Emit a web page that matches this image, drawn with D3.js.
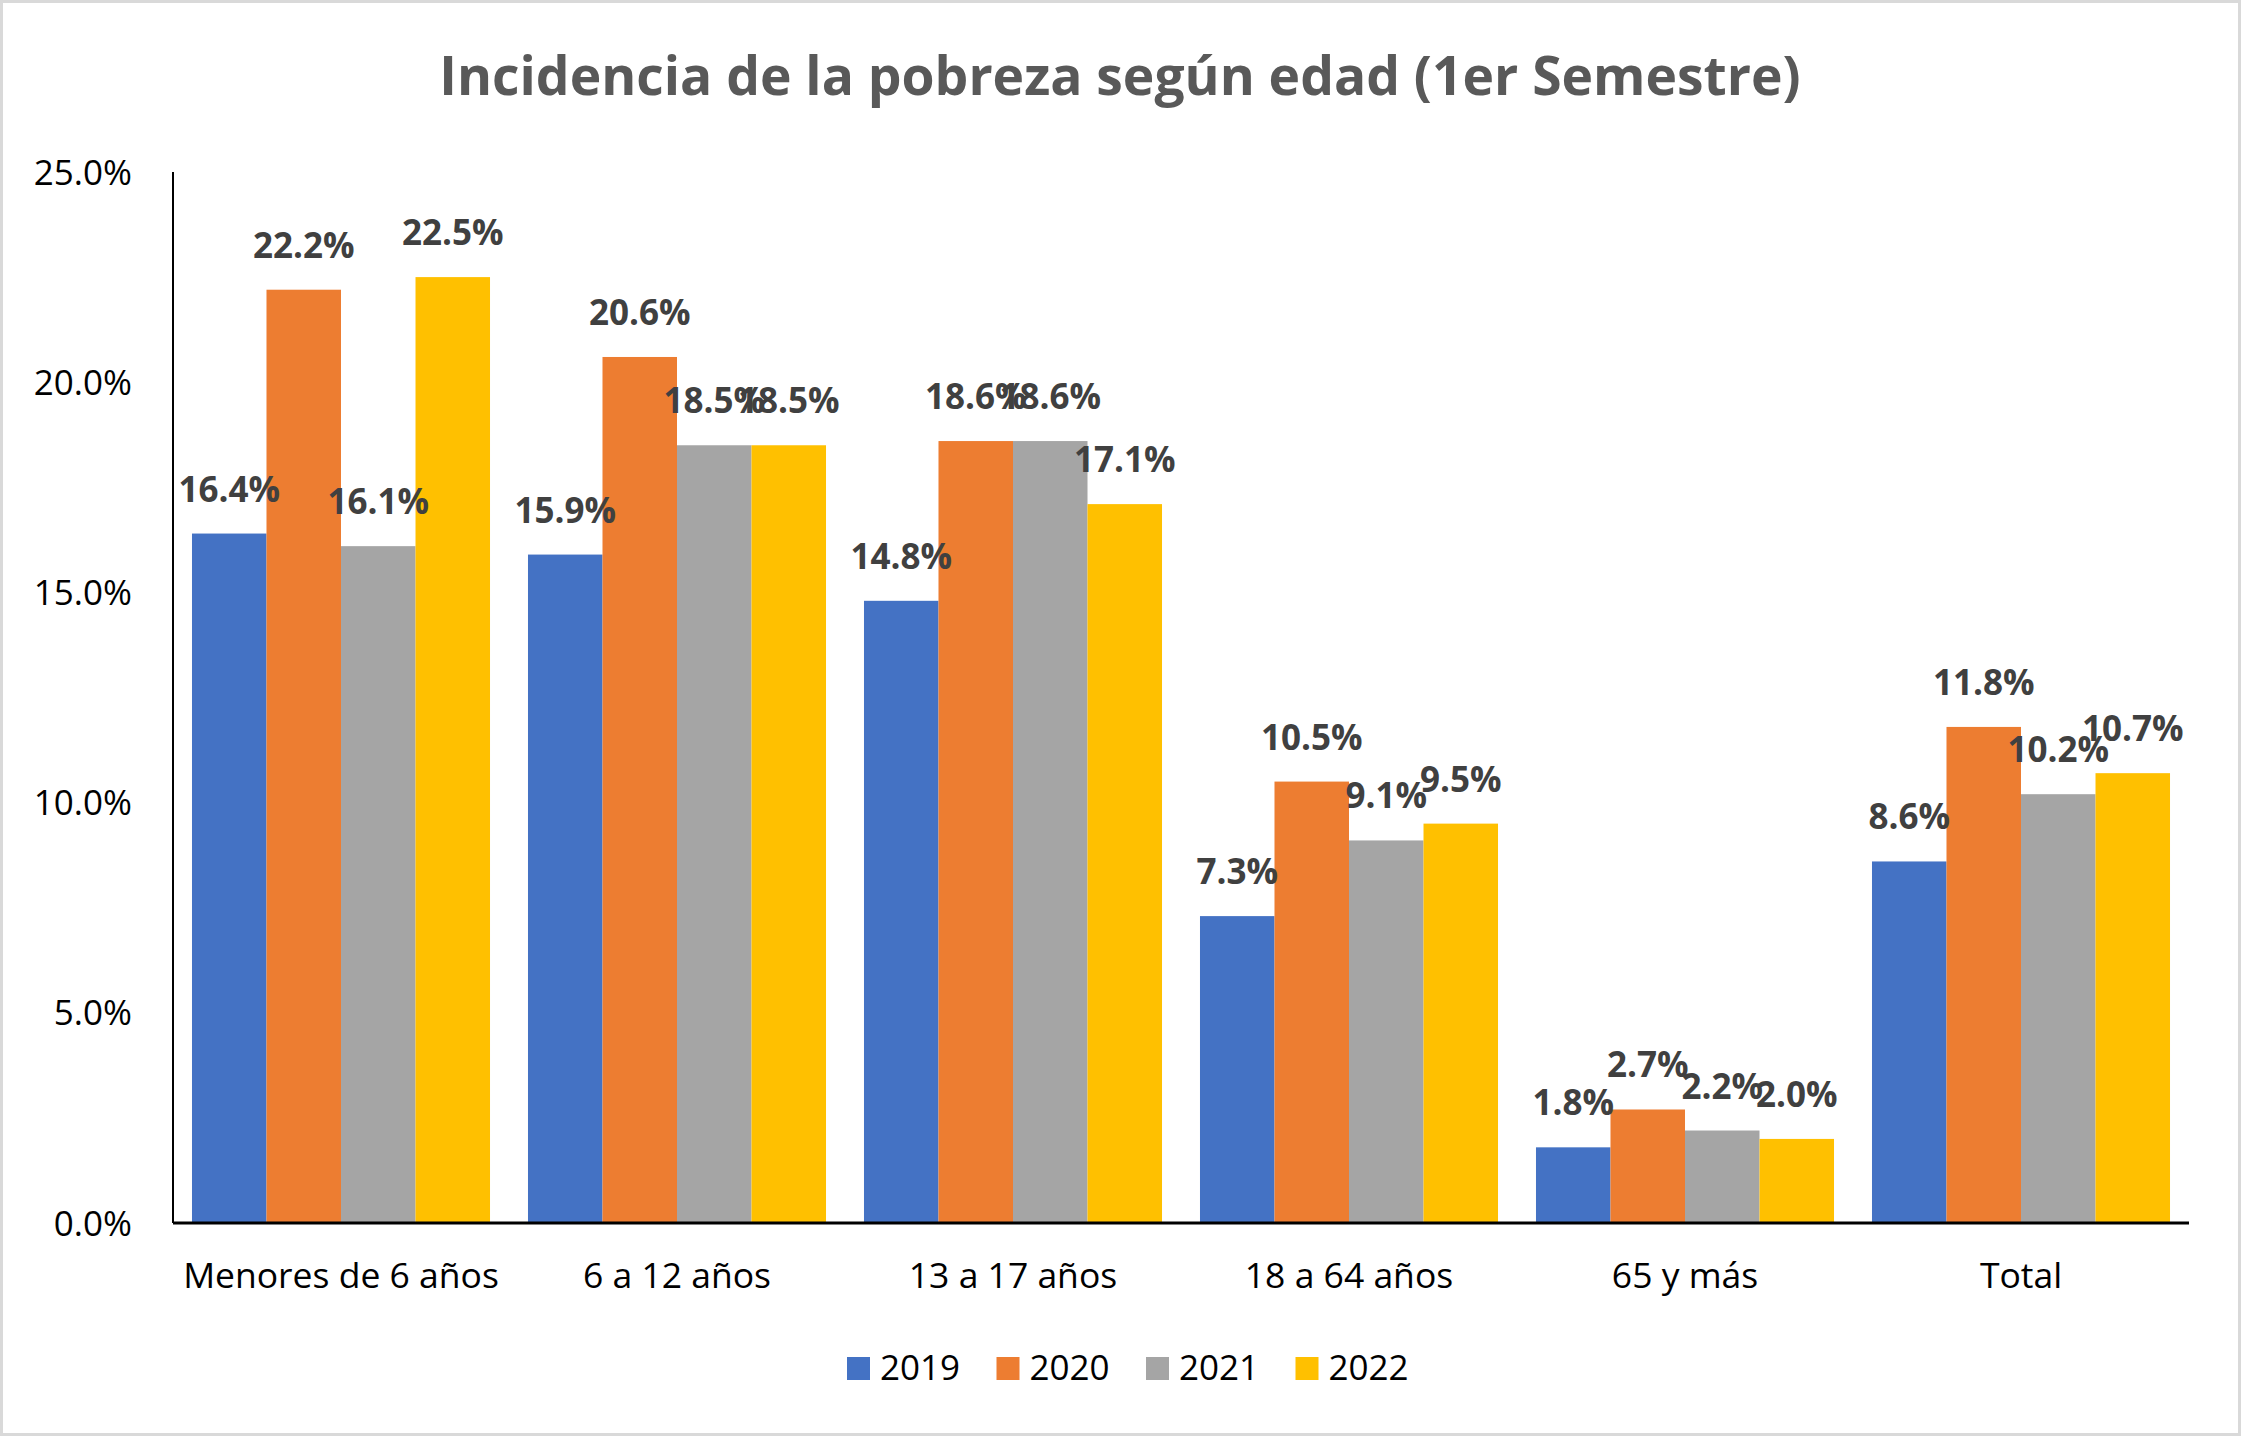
<!DOCTYPE html>
<html>
<head>
<meta charset="utf-8">
<script src="https://cdn.jsdelivr.net/npm/d3@7"></script>
<style>
  html, body { margin: 0; padding: 0; background: #fff; }
  svg { display: block; }
</style>
</head>
<body>
<div id="chart"></div>
<script>
const categories = ["Menores de 6 años", "6 a 12 años", "13 a 17 años", "18 a 64 años", "65 y más", "Total"];
const seriesNames = ["2019", "2020", "2021", "2022"];
const values2019 = [16.4, 15.9, 14.8, 7.3, 1.8, 8.6];
const values2020 = [22.2, 20.6, 18.6, 10.5, 2.7, 11.8];
const values2021 = [16.1, 18.5, 18.6, 9.1, 2.2, 10.2];
const values2022 = [22.5, 18.5, 17.1, 9.5, 2.0, 10.7];
const yTicks = [0, 5, 10, 15, 20, 25];
const titleText = "Incidencia de la pobreza según edad (1er Semestre)";

(function () {
const seriesValues = [values2019, values2020, values2021, values2022];
const colors = ["#4472C4", "#ED7D31", "#A5A5A5", "#FFC000"];

const W = 2241, H = 1436;
const pLeft = 173, pRight = 2189, pTop = 172, pBottom = 1223;
const font = "'Open Sans', 'Noto Sans', sans-serif";

const svg = d3.select("#chart").append("svg")
  .attr("width", W).attr("height", H);

svg.append("rect").attr("x", 1.5).attr("y", 1.5)
  .attr("width", W - 3).attr("height", H - 3)
  .attr("fill", "#fff").attr("stroke", "#D9D9D9").attr("stroke-width", 3);

// title
svg.append("text")
  .attr("x", 1120).attr("y", 95)
  .attr("text-anchor", "middle")
  .attr("font-family", font).attr("font-weight", 700)
  .attr("font-size", 53.4).attr("fill", "#595959")
  .text(titleText);

const x0 = d3.scaleBand().domain(categories).range([pLeft, pRight])
  .paddingInner(0.113).paddingOuter(0.0565);
const x1 = d3.scaleBand().domain(seriesNames).range([0, x0.bandwidth()]).padding(0);
const y = d3.scaleLinear().domain([0, 25]).range([pBottom, pTop]);

// y tick labels
svg.append("g").selectAll("text").data(yTicks).join("text")
  .attr("x", 132).attr("y", d => y(d) + 12.5)
  .attr("text-anchor", "end")
  .attr("font-family", font).attr("font-size", 35).attr("fill", "#000")
  .text(d => d.toFixed(1) + "%");

// bars
const rows = [];
categories.forEach((c, i) => seriesNames.forEach((s, j) => rows.push({c, s, j, v: seriesValues[j][i]})));

svg.append("g").selectAll("rect").data(rows).join("rect")
  .attr("x", d => x0(d.c) + x1(d.s))
  .attr("y", d => y(d.v))
  .attr("width", x1.bandwidth())
  .attr("height", d => y(0) - y(d.v))
  .attr("fill", d => colors[d.j]);

// axes lines
svg.append("line").attr("x1", pLeft).attr("x2", pLeft).attr("y1", pTop).attr("y2", pBottom)
  .attr("stroke", "#000").attr("stroke-width", 2);
svg.append("line").attr("x1", pLeft).attr("x2", pRight).attr("y1", pBottom).attr("y2", pBottom)
  .attr("stroke", "#000").attr("stroke-width", 3);

// data labels
svg.append("g").selectAll("text").data(rows).join("text")
  .attr("x", d => x0(d.c) + x1(d.s) + x1.bandwidth() / 2)
  .attr("y", d => y(d.v) - 32)
  .attr("text-anchor", "middle")
  .attr("font-family", font).attr("font-weight", 700)
  .attr("font-size", 35).attr("fill", "#404040")
  .text(d => d.v.toFixed(1) + "%");

// category labels
svg.append("g").selectAll("text").data(categories).join("text")
  .attr("x", d => x0(d) + x0.bandwidth() / 2)
  .attr("y", 1288)
  .attr("text-anchor", "middle")
  .attr("font-family", font).attr("font-size", 35.5).attr("fill", "#000")
  .text(d => d);

// legend
const legendX = d3.scaleBand().domain(seriesNames).range([847, 1445]);
const lg = svg.append("g").selectAll("g").data(seriesNames).join("g")
  .attr("transform", d => `translate(${legendX(d)},0)`);
lg.append("rect").attr("x", 0).attr("y", 1357).attr("width", 23).attr("height", 23)
  .attr("fill", (d, i) => colors[i]);
lg.append("text").attr("x", 33).attr("y", 1380)
  .attr("font-family", font).attr("font-size", 35).attr("fill", "#000")
  .text(d => d);
})();
</script>
</body>
</html>
